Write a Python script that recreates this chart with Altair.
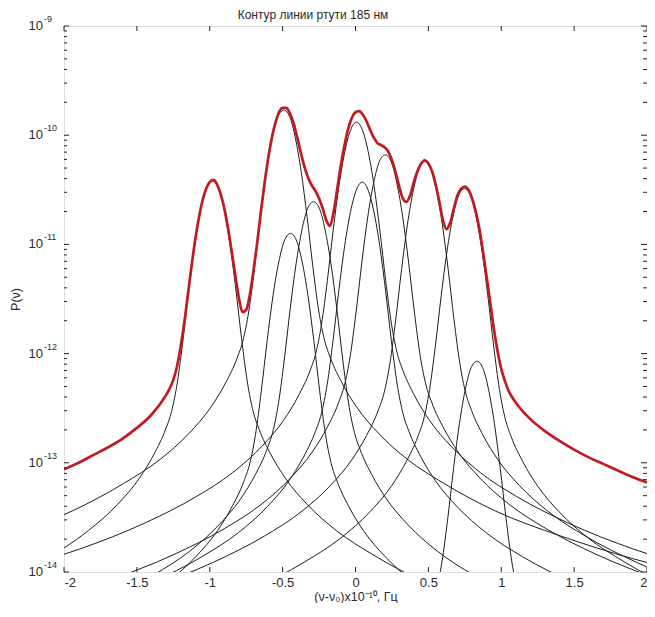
import pandas as pd
import altair as alt

# ---- black component profiles: x = (nu - nu0) x 1e-10 Hz, logp = log10 P(nu) ----
comp1_x = [-2.0, -1.832, -1.632, -1.482, -1.382, -1.302, -1.262, -1.222, -1.182, -1.142, -1.102, -1.062, -1.022,
           -0.982, -0.942, -0.902, -0.862, -0.822, -0.782, -0.742, -0.702, -0.662, -0.582, -0.482, -0.332, -0.132,
           0.118, 0.468, 0.918, 1.418, 2.0]
comp1_logp = [-13.78, -13.62, -13.38, -13.14, -12.92, -12.69, -12.53, -12.26, -11.86, -11.40, -10.99, -10.68, -10.48,
              -10.42, -10.48, -10.68, -10.99, -11.40, -11.86, -12.26, -12.53, -12.69, -12.92, -13.14, -13.38, -13.62,
              -13.84, -14.09, -14.32, -14.52, -14.71]

comp2_x = [-2.392, -1.942, -1.592, -1.342, -1.142, -0.992, -0.892, -0.812, -0.772, -0.732, -0.692, -0.652, -0.612,
           -0.572, -0.532, -0.492, -0.452, -0.412, -0.372, -0.332, -0.292, -0.252, -0.212, -0.172, -0.092, 0.008,
           0.158, 0.358, 0.608, 0.958, 1.408, 1.908, 2.508]
comp2_logp = [-13.67, -13.44, -13.19, -12.97, -12.73, -12.49, -12.27, -12.04, -11.88, -11.61, -11.21, -10.75, -10.34,
              -10.03, -9.83, -9.77, -9.83, -10.03, -10.34, -10.75, -11.21, -11.61, -11.88, -12.04, -12.27, -12.49,
              -12.73, -12.97, -13.19, -13.44, -13.67, -13.88, -14.07]

comp3_x = [-1.546, -1.296, -1.096, -0.946, -0.846, -0.766, -0.726, -0.686, -0.646, -0.606, -0.566, -0.526, -0.486,
           -0.446, -0.406, -0.366, -0.326, -0.286, -0.246, -0.206, -0.166, -0.126, -0.046, 0.054, 0.204, 0.404, 0.654]
comp3_logp = [-14.32, -14.10, -13.86, -13.62, -13.40, -13.17, -13.01, -12.74, -12.34, -11.88, -11.47, -11.16, -10.96,
              -10.90, -10.96, -11.16, -11.47, -11.88, -12.34, -12.74, -13.01, -13.17, -13.40, -13.62, -13.86, -14.10,
              -14.32]

comp4_x = [-1.738, -1.388, -1.138, -0.938, -0.788, -0.688, -0.608, -0.568, -0.528, -0.488, -0.448, -0.408, -0.368,
           -0.328, -0.288, -0.248, -0.208, -0.168, -0.128, -0.088, -0.048, -0.008, 0.032, 0.112, 0.212, 0.362, 0.562,
           0.812, 1.162]
comp4_logp = [-14.28, -14.03, -13.81, -13.57, -13.33, -13.11, -12.88, -12.72, -12.45, -12.05, -11.59, -11.18, -10.87,
              -10.67, -10.61, -10.67, -10.87, -11.18, -11.59, -12.05, -12.45, -12.72, -12.88, -13.11, -13.33, -13.57,
              -13.81, -14.03, -14.28]

comp5_x = [-2.393, -1.893, -1.443, -1.093, -0.843, -0.643, -0.493, -0.393, -0.313, -0.273, -0.233, -0.193, -0.153,
           -0.113, -0.073, -0.033, 0.007, 0.047, 0.087, 0.127, 0.167, 0.207, 0.247, 0.287, 0.327, 0.407, 0.507, 0.657,
           0.857, 1.107, 1.457, 1.907, 2.407]
comp5_logp = [-13.99, -13.79, -13.55, -13.31, -13.09, -12.85, -12.61, -12.39, -12.16, -12.00, -11.73, -11.33, -10.87,
              -10.46, -10.15, -9.95, -9.88, -9.95, -10.15, -10.46, -10.87, -11.33, -11.73, -12.00, -12.16, -12.39,
              -12.61, -12.85, -13.09, -13.31, -13.55, -13.79, -13.99]

comp6_x = [-1.404, -1.054, -0.804, -0.604, -0.454, -0.354, -0.274, -0.234, -0.194, -0.154, -0.114, -0.074, -0.034,
           0.006, 0.046, 0.086, 0.126, 0.166, 0.206, 0.246, 0.286, 0.326, 0.366, 0.446, 0.546, 0.696, 0.896, 1.146,
           1.496]
comp6_logp = [-14.10, -13.86, -13.64, -13.40, -13.16, -12.94, -12.71, -12.55, -12.28, -11.88, -11.42, -11.01, -10.70,
              -10.50, -10.43, -10.50, -10.70, -11.01, -11.42, -11.88, -12.28, -12.55, -12.71, -12.94, -13.16, -13.40,
              -13.64, -13.86, -14.10]

comp7_x = [-1.696, -1.246, -0.896, -0.646, -0.446, -0.296, -0.196, -0.116, -0.076, -0.036, 0.004, 0.044, 0.084,
           0.124, 0.164, 0.204, 0.244, 0.284, 0.324, 0.364, 0.404, 0.444, 0.484, 0.524, 0.604, 0.704, 0.854, 1.054,
           1.304, 1.654, 2.104]
comp7_logp = [-14.08, -13.84, -13.60, -13.38, -13.14, -12.90, -12.68, -12.45, -12.29, -12.02, -11.62, -11.16, -10.75,
              -10.44, -10.24, -10.18, -10.24, -10.44, -10.75, -11.16, -11.62, -12.02, -12.29, -12.45, -12.68, -12.90,
              -13.14, -13.38, -13.60, -13.84, -14.08]

comp8_x = [-1.424, -0.974, -0.624, -0.374, -0.174, -0.024, 0.076, 0.156, 0.196, 0.236, 0.276, 0.316, 0.356, 0.396,
           0.436, 0.476, 0.516, 0.556, 0.596, 0.636, 0.676, 0.716, 0.756, 0.796, 0.876, 0.976, 1.126, 1.326, 1.576,
           1.926, 2.376]
comp8_logp = [-14.15, -13.91, -13.67, -13.45, -13.21, -12.97, -12.75, -12.52, -12.36, -12.09, -11.69, -11.23, -10.82,
              -10.51, -10.31, -10.24, -10.31, -10.51, -10.82, -11.23, -11.69, -12.09, -12.36, -12.52, -12.75, -12.97,
              -13.21, -13.45, -13.67, -13.91, -14.15]

comp9_x = [-0.702, -0.352, -0.102, 0.098, 0.248, 0.348, 0.428, 0.468, 0.508, 0.548, 0.588, 0.628, 0.668, 0.708,
           0.748, 0.788, 0.828, 0.868, 0.908, 0.948, 0.988, 1.028, 1.068, 1.148, 1.248, 1.398, 1.598, 1.848, 2.198]
comp9_logp = [-14.16, -13.91, -13.69, -13.45, -13.21, -12.99, -12.76, -12.60, -12.33, -11.93, -11.47, -11.06, -10.75,
              -10.55, -10.49, -10.55, -10.75, -11.06, -11.47, -11.93, -12.33, -12.60, -12.76, -12.99, -13.21, -13.45,
              -13.69, -13.91, -14.16]

comp10_x = [0.553, 0.593, 0.633, 0.673, 0.713, 0.753, 0.793, 0.833, 0.873, 0.913, 0.953, 0.993, 1.033, 1.073, 1.113]
comp10_logp = [-14.18, -13.91, -13.51, -13.05, -12.64, -12.33, -12.13, -12.07, -12.13, -12.33, -12.64, -13.05, -13.51,
               -13.91, -14.18]

# ---- red total contour ----
red_x = [-2.0, -1.9, -1.8, -1.7, -1.6, -1.5, -1.4,
         -1.3, -1.275, -1.25, -1.225, -1.2, -1.175, -1.15, -1.125, -1.1, -1.075,
         -1.05, -1.025, -1.0, -0.975, -0.95, -0.925, -0.9, -0.875, -0.85, -0.825,
         -0.8, -0.775, -0.75, -0.725, -0.7, -0.675, -0.65, -0.625, -0.6, -0.575,
         -0.55, -0.525, -0.5, -0.475, -0.45, -0.425, -0.4, -0.375, -0.35, -0.325,
         -0.3, -0.275, -0.25, -0.225, -0.2, -0.175, -0.15, -0.125, -0.1, -0.075,
         -0.05, -0.025, 0.0, 0.025, 0.05, 0.075, 0.1, 0.125, 0.15, 0.175,
         0.2, 0.225, 0.25, 0.275, 0.3, 0.325, 0.35, 0.375, 0.4, 0.425,
         0.45, 0.475, 0.5, 0.525, 0.55, 0.575, 0.6, 0.625, 0.65, 0.675,
         0.7, 0.725, 0.75, 0.775, 0.8, 0.825, 0.85, 0.875, 0.9, 0.925,
         0.95, 0.975, 1.0, 1.025, 1.05, 1.075, 1.1,
         1.2, 1.3, 1.4, 1.5, 1.6, 1.7, 1.8, 1.9, 2.0]
red_logp = [-13.06, -13.00, -12.93, -12.86, -12.78, -12.68, -12.56,
            -12.38, -12.32, -12.24, -12.12, -11.94, -11.72, -11.46, -11.20, -10.96, -10.76,
            -10.60, -10.49, -10.43, -10.41, -10.45, -10.54, -10.67, -10.85, -11.06, -11.28,
            -11.49, -11.62, -11.60, -11.46, -11.24, -10.99, -10.71, -10.45, -10.22, -10.03,
            -9.89, -9.79, -9.75, -9.75, -9.80, -9.89, -10.02, -10.16, -10.29, -10.39,
            -10.46, -10.51, -10.58, -10.67, -10.78, -10.83, -10.70, -10.49, -10.27, -10.09,
            -9.94, -9.84, -9.79, -9.78, -9.81, -9.87, -9.95, -10.02, -10.07, -10.09,
            -10.11, -10.15, -10.23, -10.34, -10.47, -10.58, -10.61, -10.55, -10.43, -10.33,
            -10.26, -10.23, -10.26, -10.33, -10.45, -10.61, -10.78, -10.86, -10.80, -10.67,
            -10.55, -10.49, -10.47, -10.50, -10.58, -10.70, -10.86, -11.07, -11.30, -11.54,
            -11.78, -11.98, -12.14, -12.25, -12.34, -12.40, -12.45,
            -12.60, -12.71, -12.80, -12.88, -12.95, -13.01, -13.07, -13.13, -13.18]

# ---- axis ticks / labels ----
x_ticks = [-2, -1.5, -1, -0.5, 0, 0.5, 1, 1.5, 2]
y_decades = [1e-14, 1e-13, 1e-12, 1e-11, 1e-10, 1e-9]
y_exponents = ["-14", "-13", "-12", "-11", "-10", "-9"]
minor_mult = [2, 3, 4, 5, 6, 7, 8, 9]
title_text = ["Контур линии ртути 185 нм"]

comps = [(comp1_x, comp1_logp), (comp2_x, comp2_logp), (comp3_x, comp3_logp), (comp4_x, comp4_logp),
         (comp5_x, comp5_logp), (comp6_x, comp6_logp), (comp7_x, comp7_logp), (comp8_x, comp8_logp),
         (comp9_x, comp9_logp), (comp10_x, comp10_logp)]
rows = []
for i, (xs, ls) in enumerate(comps):
    for x, l in zip(xs, ls):
        rows.append({"x": x, "p": 10.0 ** l, "comp": f"c{i + 1}"})
df_comp = pd.DataFrame(rows)
df_red = pd.DataFrame({"x": red_x, "p": [10.0 ** l for l in red_logp]})
df_xt = pd.DataFrame({"v": x_ticks})
df_ym = pd.DataFrame({"v": y_decades, "e": y_exponents})
df_yn = pd.DataFrame({"v": [m * d for d in y_decades[:-1] for m in minor_mult]})
df_title = pd.DataFrame({"t": title_text})

W, H = 583, 546
FONT = "Liberation Sans"
AX = "#222222"
TXT = "#2a2a2a"

xsc = alt.Scale(domain=[-2, 2], nice=False, zero=False)
ysc = alt.Scale(type="log", domain=[1e-14, 1e-9], nice=False)

black = alt.Chart(df_comp).mark_line(color="#1c1c1c", strokeWidth=1, clip=True, interpolate="monotone").encode(
    x=alt.X("x:Q", scale=xsc, axis=alt.Axis(values=x_ticks, ticks=False, tickSize=0, domain=False, grid=False,
                                            labelExpr="datum.value + ''", labelFont=FONT, labelFontSize=13,
                                            labelColor=TXT, labelPadding=4,
                                            title="(ν-ν₀)x10⁻¹⁰, Гц", titleFont=FONT, titleFontSize=12.5,
                                            titleFontWeight="normal", titleColor=TXT, titlePadding=1)),
    y=alt.Y("p:Q", scale=ysc, axis=alt.Axis(labels=False, ticks=False, domain=False, grid=False,
                                            title="P(ν)", titleFont=FONT, titleFontSize=12.5,
                                            titleFontWeight="normal", titleColor=TXT, titlePadding=42)),
    detail="comp:N",
)
red = alt.Chart(df_red).mark_line(color="#c01a22", strokeWidth=2.7, clip=True, interpolate="monotone").encode(
    x=alt.X("x:Q", scale=xsc), y=alt.Y("p:Q", scale=ysc))

xt_bot = alt.Chart(df_xt).mark_rule(color=AX, strokeWidth=1).encode(
    x=alt.X("v:Q", scale=xsc), y=alt.value(H), y2=alt.value(H - 5))
xt_top = alt.Chart(df_xt).mark_rule(color=AX, strokeWidth=1).encode(
    x=alt.X("v:Q", scale=xsc), y=alt.value(0), y2=alt.value(5))
ym_l = alt.Chart(df_ym).mark_rule(color=AX, strokeWidth=1).encode(
    y=alt.Y("v:Q", scale=ysc), x=alt.value(0), x2=alt.value(5))
ym_r = alt.Chart(df_ym).mark_rule(color=AX, strokeWidth=1).encode(
    y=alt.Y("v:Q", scale=ysc), x=alt.value(W), x2=alt.value(W - 6))
yn_l = alt.Chart(df_yn).mark_rule(color=AX, strokeWidth=1).encode(
    y=alt.Y("v:Q", scale=ysc), x=alt.value(0), x2=alt.value(3))
yn_r = alt.Chart(df_yn).mark_rule(color=AX, strokeWidth=1).encode(
    y=alt.Y("v:Q", scale=ysc), x=alt.value(W), x2=alt.value(W - 4))
lab10 = alt.Chart(df_ym).mark_text(text="10", align="right", baseline="middle", font=FONT, fontSize=13,
                                   color=TXT).encode(y=alt.Y("v:Q", scale=ysc), x=alt.value(-21))
labe = alt.Chart(df_ym).mark_text(align="left", baseline="middle", font=FONT, fontSize=9, dy=-7,
                                  color=TXT).encode(y=alt.Y("v:Q", scale=ysc), x=alt.value(-20), text="e:N")
title = alt.Chart(df_title).mark_text(align="center", baseline="alphabetic", font=FONT, fontSize=12,
                                      color=TXT).encode(text="t:N", x=alt.value(249), y=alt.value(-7))

chart = alt.layer(black, red, xt_bot, xt_top, ym_l, ym_r, yn_l, yn_r, lab10, labe, title).properties(
    width=W, height=H,
    autosize=alt.AutoSizeParams(type="none"),
    padding={"left": 56, "top": 18, "right": 0, "bottom": 31},
).configure_view(stroke=AX, strokeWidth=1).configure(background="white")

chart.save("out.html", embed_options={"renderer": "svg", "actions": False})
